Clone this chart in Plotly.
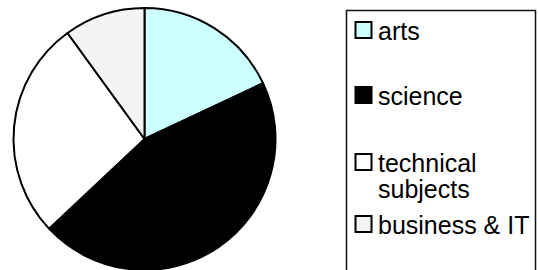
import plotly.graph_objects as go

labels = ["arts", "science", "technical subjects", "business & IT"]
values = [18, 45, 27, 10]
colors = ["#ccffff", "#000000", "#ffffff", "#f4f4f4"]
legend_lines = [["arts"], ["science"], ["technical", "subjects"], ["business & IT"]]

W, H = 538, 270

def px(x):
    return x / W

def py(y):
    return 1 - y / H

fig = go.Figure(go.Pie(
    labels=labels, values=values, sort=False, direction="clockwise", rotation=0,
    marker=dict(colors=colors, line=dict(color="#000000", width=2)),
    textinfo="none", hoverinfo="label+percent", showlegend=False,
    domain=dict(x=[px(13), px(276)], y=[0, py(8)]),
))

shapes = [dict(type="rect", xref="paper", yref="paper",
               x0=px(346.5), x1=px(535.5), y0=py(278), y1=py(10.5),
               line=dict(color="#111111", width=1.5), fillcolor="rgba(0,0,0,0)")]
annotations = []
baselines = [[39], [104], [171, 197], [233]]
fs = 25
for i, (lines, bls) in enumerate(zip(legend_lines, baselines)):
    b = bls[0]
    shapes.append(dict(type="rect", xref="paper", yref="paper",
                       x0=px(355.5), x1=px(371.5), y0=py(b - 1), y1=py(b - 17),
                       line=dict(color="#000000", width=2), fillcolor=colors[i]))
    for line_text, bl in zip(lines, bls):
        annotations.append(dict(text=line_text, xref="paper", yref="paper",
                                x=px(376), y=py(bl - 8), xanchor="left", yanchor="middle",
                                showarrow=False,
                                font=dict(family="Liberation Sans, Arial, sans-serif", size=fs, color="#000000")))

fig.update_layout(
    width=W, height=H, margin=dict(l=0, r=0, t=0, b=0),
    paper_bgcolor="#ffffff", plot_bgcolor="#ffffff",
    shapes=shapes, annotations=annotations, showlegend=False,
)

fig.write_html("out.html", config={"displayModeBar": False},
               post_script="document.body.style.margin='0';document.body.style.overflow='hidden';")
